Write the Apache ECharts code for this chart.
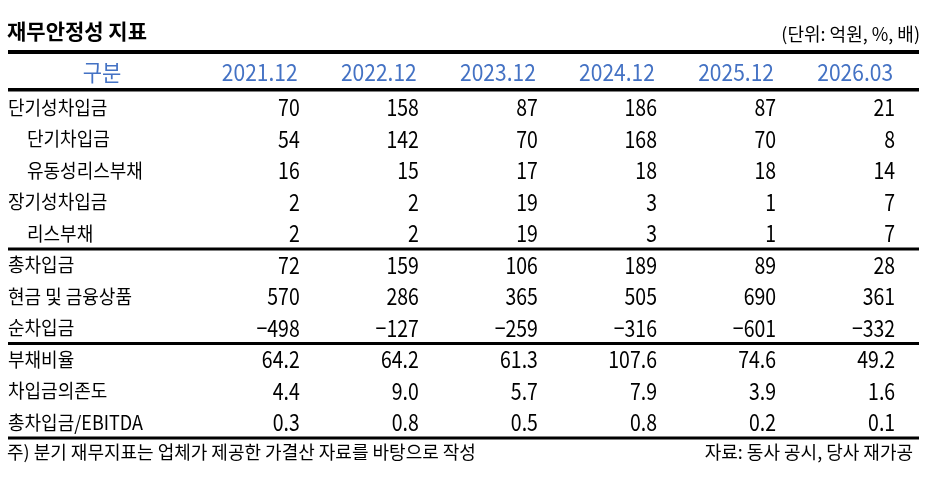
<!DOCTYPE html>
<html>
<head>
<meta charset="utf-8">
<script src="https://cdn.jsdelivr.net/npm/echarts@6/dist/echarts.min.js"></script>
<style>html,body{margin:0;padding:0;background:#fff}#main{width:930px;height:486px}</style>
</head>
<body>
<div id="main"></div>
<script>
var years = ['2021.12', '2022.12', '2023.12', '2024.12', '2025.12', '2026.03'];
var rowNames = ['단기성차입금', '단기차입금', '유동성리스부채', '장기성차입금', '리스부채',
	'총차입금', '현금 및 금융상품', '순차입금', '부채비율', '차입금의존도', '총차입금/EBITDA'];
var subRows = [1, 2, 4];      // 들여쓰기 항목
var groupEnds = [4, 7];       // 이 행 아래에 구분선
var ratioRows = [8, 9, 10];   // 소수 첫째자리 표시

var shortDebt  = [70, 158, 87, 186, 87, 21];
var shortLoan  = [54, 142, 70, 168, 70, 8];
var leaseCur   = [16, 15, 17, 18, 18, 14];
var longDebt   = [2, 2, 19, 3, 1, 7];
var leaseLong  = [2, 2, 19, 3, 1, 7];
var totalDebt  = [72, 159, 106, 189, 89, 28];
var cashFin    = [570, 286, 365, 505, 690, 361];
var netDebt    = [-498, -127, -259, -316, -601, -332];
var debtRatio  = [64.2, 64.2, 61.3, 107.6, 74.6, 49.2];
var debtDep    = [4.4, 9.0, 5.7, 7.9, 3.9, 1.6];
var debtEbitda = [0.3, 0.8, 0.5, 0.8, 0.2, 0.1];
var rowValues = [shortDebt, shortLoan, leaseCur, longDebt, leaseLong,
	totalDebt, cashFin, netDebt, debtRatio, debtDep, debtEbitda];

var FONT = '"Noto Sans CJK KR", "Noto Sans", sans-serif';
var X_MIN = -1.45, X_MAX = 6.2, Y_MIN = -1.75, Y_MAX = 10.5, HEAD_Y = -1.1;

function fmt(v, r) {
	var s = ratioRows.indexOf(r) >= 0 ? v.toFixed(1) : String(v);
	return s.replace('-', '\u2212');
}

// 셀 목록 (헤더 + 본문)
var cells = [];
cells.push({ value: [-0.66, HEAD_Y], text: '구분', kind: 'head' });
years.forEach(function (y, c) {
	cells.push({ value: [c + 1 - 0.336, HEAD_Y], text: y, kind: 'head' });
});
rowNames.forEach(function (name, r) {
	cells.push({ value: [X_MIN, r], text: name, kind: 'label', indent: subRows.indexOf(r) >= 0 });
	rowValues[r].forEach(function (v, c) {
		cells.push({ value: [c + 1, r], text: fmt(v, r), kind: 'num' });
	});
});

// 글꼴 스타일 (원본은 세로로 긴 글꼴이라 scaleY로 보정)
var cellStyle = {
	head:  { font: '21px ' + FONT, fill: '#4472c4', align: 'center', sy: 1.1 },
	label: { font: '18px ' + FONT, fill: '#000', align: 'left', sy: 1.08 },
	num:   { font: '19.5px ' + FONT, fill: '#000', align: 'right', sy: 1.2 }
};

// 가로 구분선
var rules = [{ value: [0, Y_MIN], w: 4 }, { value: [0, -0.55], w: 3.5 }];
groupEnds.forEach(function (g) { rules.push({ value: [0, g + 0.5], w: 3 }); });
rules.push({ value: [0, rowNames.length - 0.5], w: 3 });

var myChart = echarts.init(document.getElementById('main'));
var option = {
	backgroundColor: '#fff',
	animation: false,
	title: [
		{ text: '재무안정성 지표', left: 7, top: 21, padding: 0,
			textStyle: { fontFamily: FONT, fontSize: 21, fontWeight: 'bold', color: '#000' } },
		{ text: '(단위: 억원, %, 배)', right: 10, top: 25, padding: 0,
			textStyle: { fontFamily: FONT, fontSize: 18, fontWeight: 'normal', color: '#000' } },
		{ text: '주) 분기 재무지표는 업체가 제공한 가결산 자료를 바탕으로 작성', left: 7, top: 443, padding: 0,
			textStyle: { fontFamily: FONT, fontSize: 18, fontWeight: 'normal', color: '#000' } },
		{ text: '자료: 동사 공시, 당사 재가공', right: 17, top: 443, padding: 0,
			textStyle: { fontFamily: FONT, fontSize: 18, fontWeight: 'normal', color: '#000' } }
	],
	grid: { left: 8, right: 11, top: 52, bottom: 48 },
	xAxis: { type: 'value', min: X_MIN, max: X_MAX, show: false },
	yAxis: { type: 'value', min: Y_MIN, max: Y_MAX, inverse: true, show: false },
	series: [
		{
			type: 'custom',
			data: rules,
			silent: true,
			renderItem: function (params, api) {
				var p = api.coord([0, api.value(1)]);
				var cs = params.coordSys;
				return {
					type: 'line',
					shape: { x1: cs.x, y1: p[1], x2: cs.x + cs.width, y2: p[1] },
					style: { stroke: '#000', lineWidth: rules[params.dataIndex].w }
				};
			}
		},
		{
			type: 'custom',
			data: cells,
			silent: true,
			clip: false,
			renderItem: function (params, api) {
				var cell = cells[params.dataIndex];
				var st = cellStyle[cell.kind];
				var p = api.coord([api.value(0), api.value(1)]);
				return {
					type: 'text',
					x: p[0] + (cell.indent ? 19 : 0),
					y: p[1],
					scaleY: st.sy,
					style: {
						text: cell.text,
						fill: st.fill,
						font: st.font,
						align: st.align,
						verticalAlign: 'middle'
					}
				};
			}
		}
	]
};
myChart.setOption(option);
window.addEventListener('resize', function () {
	myChart.resize();
});
</script>
</body>
</html>
